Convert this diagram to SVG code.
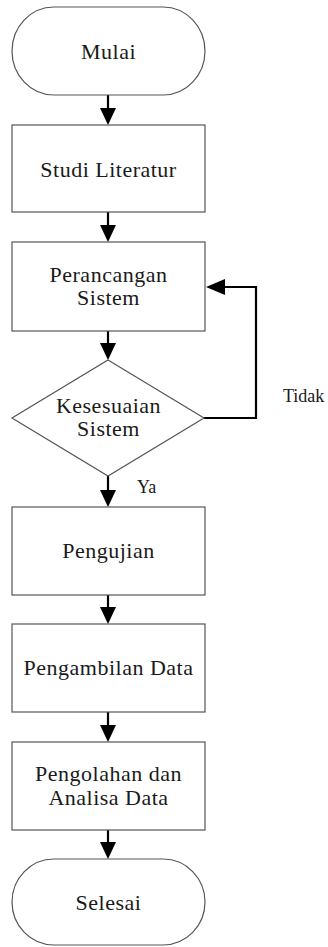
<svg xmlns="http://www.w3.org/2000/svg" width="328" height="947" viewBox="0 0 328 947">
<style>
.shape{fill:#fff;stroke:#555;stroke-width:1.2}
.lbl{font-family:"Liberation Serif","Times New Roman",serif;font-size:22px;fill:#1a1a1a;text-anchor:middle;letter-spacing:0.5px}
.small{font-family:"Liberation Serif","Times New Roman",serif;font-size:18px;fill:#1a1a1a}
.conn{fill:none;stroke:#000;stroke-width:2.2}
.head{fill:#000;stroke:none}
</style>
<defs>
<marker id="arr" markerWidth="8" markerHeight="8" refX="8" refY="4" orient="auto" markerUnits="userSpaceOnUse" viewBox="0 0 8 8">
<path d="M0,0 L8,4 L0,8 Z" class="head"/>
</marker>
</defs>
<rect width="328" height="947" fill="#fff"/>
<g id="connectors">
<path class="conn" d="M108,95 V108"/><path class="head" d="M100,108 H116 L108,125 Z"/>
<path class="conn" d="M108,212 V225"/><path class="head" d="M100,225 H116 L108,242 Z"/>
<path class="conn" d="M108,331 V343"/><path class="head" d="M100,343 H116 L108,360 Z"/>
<path class="conn" d="M108,476 V490"/><path class="head" d="M100,490 H116 L108,507 Z"/>
<path class="conn" d="M108,595 V607"/><path class="head" d="M100,607 H116 L108,624 Z"/>
<path class="conn" d="M108,712 V725"/><path class="head" d="M100,725 H116 L108,742 Z"/>
<path class="conn" d="M108,830 V842"/><path class="head" d="M100,842 H116 L108,859 Z"/>
<path class="conn" d="M204,418 H256 V287 H225"/><path class="head" d="M225,279 V295 L206,287 Z"/>
<text class="small" x="283" y="402">Tidak</text>
<text class="small" x="137" y="493">Ya</text>
</g>
<g id="mulai">
<rect class="shape" x="12" y="7" width="193" height="88" rx="42" ry="44"/>
<text class="lbl" x="108.5" y="59">Mulai</text>
</g>
<g id="studi">
<rect class="shape" x="12" y="125" width="193" height="87"/>
<text class="lbl" x="108.5" y="177">Studi Literatur</text>
</g>
<g id="perancangan">
<rect class="shape" x="12" y="242" width="193" height="89"/>
<text class="lbl" x="108.5" y="282">Perancangan</text>
<text class="lbl" x="108.5" y="305">Sistem</text>
</g>
<g id="kesesuaian">
<path class="shape" d="M108,360 L204,418 L108,476 L12,418 Z"/>
<text class="lbl" x="108.5" y="413">Kesesuaian</text>
<text class="lbl" x="108.5" y="436">Sistem</text>
</g>
<g id="pengujian">
<rect class="shape" x="12" y="507" width="193" height="88"/>
<text class="lbl" x="108.5" y="558">Pengujian</text>
</g>
<g id="pengambilan">
<rect class="shape" x="12" y="624" width="193" height="88"/>
<text class="lbl" x="108.5" y="675">Pengambilan Data</text>
</g>
<g id="pengolahan">
<rect class="shape" x="12" y="742" width="193" height="88"/>
<text class="lbl" x="108.5" y="781">Pengolahan dan</text>
<text class="lbl" x="108.5" y="805">Analisa Data</text>
</g>
<g id="selesai">
<rect class="shape" x="12" y="859" width="193" height="86" rx="42" ry="43"/>
<text class="lbl" x="108.5" y="910">Selesai</text>
</g>
</svg>
